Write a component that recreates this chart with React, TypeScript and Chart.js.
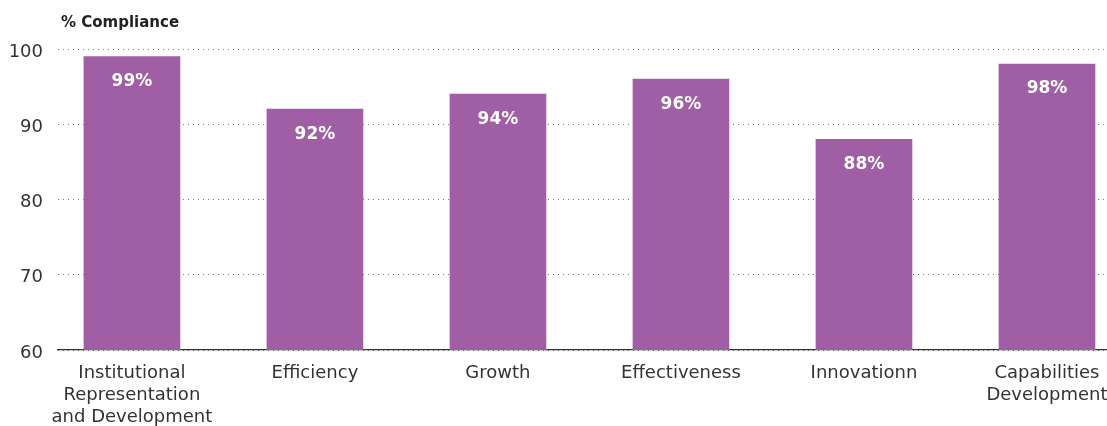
import React, { useEffect, useRef } from "react";
import { Chart, registerables } from "chart.js";

Chart.register(...registerables);

const categories: (string | string[])[] = [
  ["Institutional", "Representation", "and Development"],
  "Efficiency",
  "Growth",
  "Effectiveness",
  "Innovationn",
  ["Capabilities", "Development"],
];
const compliance: number[] = [99, 92, 94, 96, 88, 98];
const valueLabels: string[] = ["99%", "92%", "94%", "96%", "88%", "98%"];
const yTicks: number[] = [60, 70, 80, 90, 100];
const axisTitle = "% Compliance";

const FONT = "'DejaVu Sans', sans-serif";
const BAR_COLOR = "rgb(160, 94, 165)";

const overlayPlugin = {
  id: "overlayText",
  afterDatasetsDraw(chart: any) {
    const ctx = chart.ctx;
    ctx.save();
    // axis title
    ctx.fillStyle = "#222";
    ctx.font = `bold 15px ${FONT}`;
    ctx.textAlign = "left";
    ctx.textBaseline = "middle";
    ctx.fillText(axisTitle, chart.chartArea.left + 3, 23);
    // value labels
    const meta = chart.getDatasetMeta(0);
    ctx.fillStyle = "#ffffff";
    ctx.font = `bold 17px ${FONT}`;
    ctx.textAlign = "center";
    meta.data.forEach((bar: any, i: number) => {
      ctx.fillText(valueLabels[i], bar.x, bar.y + 25);
    });
    ctx.restore();
  },
};

export default function App() {
  const canvasRef = useRef<HTMLCanvasElement | null>(null);

  useEffect(() => {
    if (!canvasRef.current) return;
    const chart = new Chart(canvasRef.current, {
      type: "bar",
      data: {
        datasets: [
          {
            data: compliance.map((v, i) => ({ x: i, y: v })),
            backgroundColor: BAR_COLOR,
            borderWidth: 0,
            barThickness: 96,
          },
        ],
      },
      options: {
        animation: false,
        responsive: false,
        layout: { padding: { top: 49, left: 0, right: 0, bottom: 0 } },
        plugins: {
          legend: { display: false },
          tooltip: { enabled: false },
          title: { display: false },
        },
        scales: {
          x: {
            type: "linear",
            min: -0.404,
            max: 5.328,
            offset: false,
            grid: { display: false, drawTicks: false },
            border: { display: true, color: "#333", width: 1.3 },
            afterBuildTicks: (scale: any) => {
              scale.ticks = categories.map((_, i) => ({ value: i }));
            },
            afterFit: (scale: any) => {
              scale.height = 76;
              scale.paddingLeft = 0;
              scale.paddingRight = 0;
            },
            ticks: {
              autoSkip: false,
              maxRotation: 0,
              minRotation: 0,
              padding: 13,
              color: "#333",
              font: { family: FONT, size: 18 },
              callback: (value: any) => categories[Math.round(Number(value))] as any,
            },
          },
          y: {
            min: 60,
            max: 100,
            afterBuildTicks: (scale: any) => {
              scale.ticks = yTicks.map((v) => ({ value: v }));
            },
            afterFit: (scale: any) => {
              scale.width = 58;
              scale.paddingTop = 0;
              scale.paddingBottom = 0;
            },
            grid: { color: "#777", lineWidth: 1, drawTicks: false },
            border: { display: false, dash: [1, 4] },
            ticks: {
              padding: 15,
              labelOffset: 3,
              color: "#333",
              font: { family: FONT, size: 18 },
            },
          },
        },
      },
      plugins: [overlayPlugin],
    });
    return () => chart.destroy();
  }, []);

  return (
    <div style={{ position: "absolute", left: 0, top: 0, width: 1107, height: 426 }}>
      <canvas ref={canvasRef} width={1107} height={426} />
    </div>
  );
}
